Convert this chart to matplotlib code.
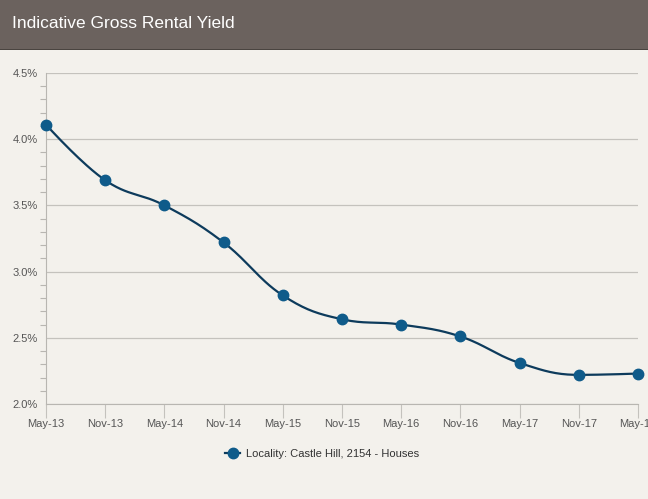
import numpy as np
import matplotlib
matplotlib.use("Agg")
import matplotlib.pyplot as plt
from matplotlib.patches import Rectangle
from matplotlib.lines import Line2D

categories = ["May-13", "Nov-13", "May-14", "Nov-14", "May-15", "Nov-15",
              "May-16", "Nov-16", "May-17", "Nov-17", "May-18"]
yields = [4.11, 3.69, 3.50, 3.22, 2.82, 2.64, 2.60, 2.51, 2.31, 2.22, 2.23]
series_name = "Locality: Castle Hill, 2154 - Houses"
title = "Indicative Gross Rental Yield"
y_ticks = [2.0, 2.5, 3.0, 3.5, 4.0, 4.5]

FONT = ["Liberation Sans Narrow", "Liberation Sans", "DejaVu Sans"]
plt.rcParams["font.family"] = FONT

BG = "#f3f1ec"
HEADER = "#6b625e"
LINE = "#0d3b5c"
MARK = "#0f5b8a"


def spline_path(xs, ys, smoothing=1.5, n=30):
    """Highcharts-style spline through the data points (for drawing only)."""
    xs = np.asarray(xs, float)
    ys = np.asarray(ys, float)
    m = len(xs)
    left = [(xs[i], ys[i]) for i in range(m)]
    right = [(xs[i], ys[i]) for i in range(m)]
    denom = smoothing + 1
    for i in range(1, m - 1):
        px, py = xs[i], ys[i]
        lx, ly = xs[i - 1], ys[i - 1]
        nx, ny = xs[i + 1], ys[i + 1]
        lcx = (smoothing * px + lx) / denom
        lcy = (smoothing * py + ly) / denom
        rcx = (smoothing * px + nx) / denom
        rcy = (smoothing * py + ny) / denom
        if rcx != lcx:
            corr = (rcy - lcy) * (rcx - px) / (rcx - lcx) + py - rcy
            lcy += corr
            rcy += corr
        if lcy > max(ly, py):
            lcy = max(ly, py); rcy = 2 * py - lcy
        elif lcy < min(ly, py):
            lcy = min(ly, py); rcy = 2 * py - lcy
        if rcy > max(py, ny):
            rcy = max(py, ny); lcy = 2 * py - rcy
        elif rcy < min(py, ny):
            rcy = min(py, ny); lcy = 2 * py - rcy
        left[i] = (lcx, lcy)
        right[i] = (rcx, rcy)
    t = np.linspace(0, 1, n)
    outx, outy = [], []
    for i in range(m - 1):
        p0 = np.array([xs[i], ys[i]])
        p1 = np.array(right[i])
        p2 = np.array(left[i + 1])
        p3 = np.array([xs[i + 1], ys[i + 1]])
        b = ((1 - t) ** 3)[:, None] * p0 + (3 * (1 - t) ** 2 * t)[:, None] * p1 \
            + (3 * (1 - t) * t ** 2)[:, None] * p2 + (t ** 3)[:, None] * p3
        outx.extend(b[:, 0]); outy.extend(b[:, 1])
    return np.array(outx), np.array(outy)


W, H = 648, 499
fig = plt.figure(figsize=(W / 100, H / 100), dpi=100)
fig.patch.set_facecolor(BG)

# header band
fig.patches.append(Rectangle((0, 1 - 49 / H), 1, 49 / H, transform=fig.transFigure,
                             facecolor=HEADER, edgecolor="none", zorder=0))
fig.patches.append(Rectangle((0, 1 - 50 / H), 1, 1.2 / H, transform=fig.transFigure,
                             facecolor="#4a4440", edgecolor="none", zorder=0))
fig.text(12 / W, 1 - 24 / H, title, color="white", fontsize=12.5,
         va="center", ha="left")

ax = fig.add_axes([46 / W, 1 - 404 / H, (638 - 46) / W, (404 - 73) / H])
ax.set_facecolor(BG)

x = np.arange(len(categories))
sx, sy = spline_path(x, yields)
ax.plot(sx, sy, color=LINE, lw=1.6, zorder=3, clip_on=False)
ax.plot(x, yields, ls="none", marker="o", ms=7.5, color=MARK,
        markeredgecolor=MARK, zorder=4, clip_on=False)

ax.set_xlim(0, len(categories) - 1)
ax.set_ylim(2.0, 4.5)
ax.set_yticks(y_ticks)
ax.set_yticklabels([f"{v:.1f}%" for v in y_ticks])
ax.set_yticks(np.arange(2.0, 4.5001, 0.1), minor=True)
ax.set_xticks(x)
ax.set_xticklabels(categories)

ax.grid(axis="y", which="major", color="#c4c2bd", lw=0.9)
ax.set_axisbelow(True)
for s in ["top", "right"]:
    ax.spines[s].set_visible(False)
ax.spines["left"].set_color("#b8b6b1")
ax.spines["bottom"].set_color("#b8b6b1")
ax.tick_params(axis="y", which="major", length=0, labelsize=8, labelcolor="#555555", pad=6)
ax.tick_params(axis="y", which="minor", direction="out", length=4, color="#b8b6b1", width=0.8)
ax.tick_params(axis="x", which="major", direction="out", length=10, color="#c4c2bd",
               labelsize=8, labelcolor="#555555", pad=1)
for lab in ax.get_xticklabels():
    lab.set_clip_on(False)

handle = Line2D([0], [0], color=LINE, lw=1.6, marker="o", ms=7.5,
                markerfacecolor=MARK, markeredgecolor=MARK)
fig.legend([handle], [series_name], loc="center", bbox_to_anchor=(322 / W, 1 - 454 / H),
           frameon=False, fontsize=8, handlelength=1.4, handletextpad=0.5,
           labelcolor="#333333")

fig.savefig("out.png", dpi=100, facecolor=BG)
